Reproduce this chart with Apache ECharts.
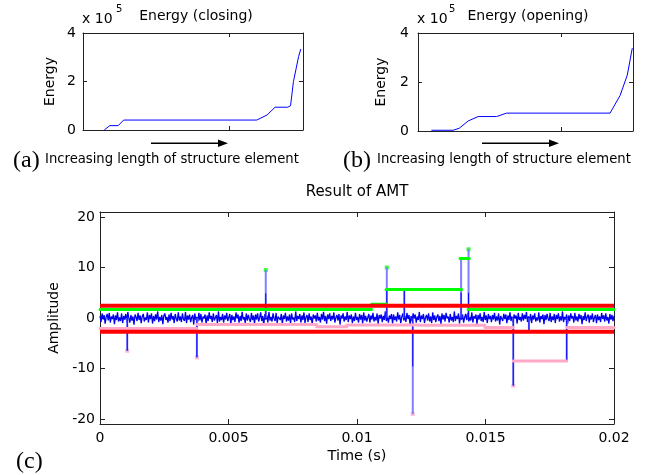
<!DOCTYPE html>
<html><head><meta charset="utf-8">
<script src="https://cdn.jsdelivr.net/npm/echarts@6/dist/echarts.min.js"></script>
<style>html,body{margin:0;padding:0;background:#fff}#c{width:658px;height:475px}</style>
</head><body><div id="c"></div>
<script>
// (a) Energy (closing), x 10^5
const closingX = [2.9, 3.65, 4.8, 5.55, 23.7, 25.1, 26.2, 27.9, 28.3, 28.7, 29.4, 29.7];
const closingY = [0, 0.18, 0.18, 0.41, 0.41, 0.62, 0.94, 0.94, 1.0, 2.0, 3.03, 3.34];
// (b) Energy (opening), x 10^5
const openingX = [1.87, 4.9, 5.74, 7.0, 8.4, 10.97, 11.2, 12.37, 26.8, 28.2, 29.2, 29.9];
const openingY = [0.03, 0.03, 0.11, 0.41, 0.59, 0.59, 0.62, 0.73, 0.73, 1.45, 2.28, 3.38];
const energyTicks = [0, 2, 4];
const energyXTick = [20];

// (c) Result of AMT
const timeTicks = [0, 0.005, 0.01, 0.015, 0.02];
const ampTicks = [-20, -10, 0, 10, 20];
const signal = [
0.4,-0.8,0.9,-0.3,0.6,-1.1,0.2,0.8,-0.5,1.0,-0.9,0.3,-0.2,0.7,-1.2,0.5,-0.4,1.1,-0.7,0.1,
-0.6,0.9,-1.0,0.4,-0.3,0.8,-0.8,1.2,-0.1,-0.9,0.6,-0.5,0.3,-1.3,0.7,0.2,-0.6,1.0,-0.4,0.5,
-1.0,0.3,0.8,-0.7,0.1,-0.4,1.1,-0.9,0.6,-0.2,0.9,-1.1,0.4,-0.6,0.7,-0.3,1.3,-0.8,0.2,-0.5,
0.6,-1.2,0.5,0.9,-0.4,0.2,-0.9,0.7,-0.6,1.0,-0.3,0.4,-1.0,0.8,-0.1,-0.7,1.1,-0.5,0.3,-0.8,
0.9,-0.2,-0.6,1.2,-1.0,0.5,-0.3,0.7,-0.8,0.1,0.6,-1.3,0.9,-0.4,0.2,-0.7,1.0,-0.5,0.8,-0.9,
0.3,-0.1,0.7,-1.1,0.5,-0.6,1.1,-0.2,0.4,-0.8,0.9,-0.5,-0.2,0.6,-1.0,1.3,-0.7,0.2,-0.4,0.8,
-0.9,0.5,-0.3,1.0,-0.6,0.1,0.8,-1.2,0.6,-0.4,0.3,-0.8,1.1,-0.1,0.7,-0.9,0.4,-0.6,1.2,-0.3,
0.2,-1.0,0.9,-0.5,0.6,-0.2,-0.8,1.0,-0.4,0.5,-1.1,0.7,-0.3,0.9,-0.7,0.1,1.1,-0.6,0.4,-1.4,
0.8,-0.3,0.5,-0.9,1.2,-0.5,0.2,-0.7,0.9,-0.1,-0.6,1.0,-1.0,0.3,0.6,-0.4,0.8,-1.2,0.5,-0.2,
1.0,-0.7,0.3,-0.5,0.7,-1.1,0.9,-0.3,0.1,-0.8,1.3,-0.6,0.4,-0.2,0.8,-0.9,0.5,-0.4,1.1,-1.0,
0.2,0.6,-0.8,0.9,-0.4,0.3,-1.2,0.7,-0.1,0.5,-0.7,1.0,-0.5,0.2,-0.9,0.8,-0.3,1.2,-0.6,0.4,
-1.1,0.7,-0.2,0.9,-0.6,0.4,-0.3,1.1,-0.9,0.1,0.6,-0.5,0.8,-1.3,0.5,-0.1,0.9,-0.7,0.3,-0.4,
1.2,-0.8,0.5,-0.2,0.7,-1.0,0.3,-0.6,1.0,-0.4,0.2,-0.9,0.8,-0.3,0.6,-1.1,1.1,-0.5,0.4,-0.7,
0.1,0.8,-0.9,0.5,-0.3,1.0,-0.7,0.2,-0.5,0.9,-1.2,0.6,-0.1,0.7,-0.8,0.4,-0.4,1.3,-0.6,0.3,
-0.9,0.5,-0.2,0.8,-1.1,0.7,-0.4,0.3,-0.7,1.1,-0.3,0.6,-1.0,0.2,0.9,-0.5,0.4,-0.8,1.0,-0.2,
0.6,-1.3,0.4,-0.6,0.9,-0.1,0.7,-0.9,0.3,-0.4,1.2,-0.8,0.5,-0.2,0.8,-1.0,0.1,0.6,-0.5,0.9,
-0.7,0.3,-1.0,1.1,-0.4,0.5,-0.8,0.2,0.7,-0.6,0.4,-1.2,0.9,-0.3,0.6,-0.7,1.0,-0.1,0.3,-0.9,
0.8,-0.5,0.2,-0.8,1.3,-0.6,0.4,-0.2,0.9,-1.1,0.5,-0.3,0.7,-0.9,0.1,0.8,-0.4,1.0,-0.7,0.2,
-0.5,1.1,-0.9,0.4,-0.1,0.7,-1.2,0.6,-0.3,0.9,-0.6,0.2,-0.8,1.2,-0.4,0.5,-1.0,0.8,-0.2,0.4,
-0.8,0.6,-0.3,1.0,-0.7,0.3,-0.5,0.9,-1.3,0.4,0.1,-0.6,0.8,-0.2,0.7,-1.0,0.5,-0.4,1.1,-0.6,
0.3,-0.9,0.7,-0.1,0.5,-1.1,1.0,-0.4,0.2,-0.7,0.9,-0.5,0.6,-0.2,1.2,-0.8,0.3,-0.6,0.8,-1.0,
0.5,-0.3,0.9,-0.7,0.1,-0.5,1.1,-0.9,0.4,-0.2,0.7,-1.2,0.6,-0.4,0.8,-0.1,-0.6,1.0,-0.8,0.3,
-0.4,0.8,-1.0,0.6,-0.2,0.9,-0.7,0.3,-0.5,1.3,-0.8,0.2,-0.3,0.7,-1.1,0.5,-0.6,0.9,-0.1,0.4,
-0.9,1.0,-0.5,0.3,-0.7,0.8,-0.2,0.6,-1.2,0.4,-0.4,1.1,-0.6,0.2,0.7,-0.9,0.5,-0.3,0.9,-0.8,
0.1,0.6,-1.0,0.7,-0.4,0.3,-0.8,1.0,-0.2,0.5,-0.7,0.9,-0.5,0.2,-1.1,0.8,-0.3,0.6,-0.6,0.4
];
const signalEnd = 0.02;
// impulses
const spikeT    = [0.00106, 0.00377, 0.00645, 0.01116, 0.01184, 0.01217, 0.01405, 0.01434, 0.01608, 0.01669, 0.01816];
const spikePeak = [-6.5, -7.8, 9.5, 10.0, 5.67, -19.0, 11.8, 13.6, -13.4, -2.4, -8.5];
const spikeDark = [-6.5, -7.8, 4.9, 5.67, 5.67, -9.6, 5.0, 5.0, -13.4, -2.4, -8.5];
// detected peaks
const posPeakT = [0.00645, 0.01116, 0.01434];
const posPeakV = [9.5, 10.0, 13.6];
const negPeakT = [0.00106, 0.00377, 0.01217, 0.01608];
const negPeakV = [-6.5, -7.8, -19.0, -13.4];
// upper (green) envelope segments
const greenStart = [0, 0.01057, 0.01113, 0.01401, 0.01432];
const greenEnd   = [0.01057, 0.01116, 0.01407, 0.01437, 0.02];
const greenLevel = [1.68, 2.72, 5.67, 11.8, 1.68];
// lower (pink) envelope segments
const pinkStart = [0, 0.00377, 0.00843, 0.0096, 0.01245, 0.01498, 0.01608, 0.01816];
const pinkEnd   = [0.00377, 0.00843, 0.0096, 0.01245, 0.01498, 0.01608, 0.01816, 0.02];
const pinkLevel = [-2.07, -1.3, -1.75, -1.4, -1.45, -1.9, -8.5, -1.9];
// thresholds (red)
const thresholdLevel = [2.43, -2.7];

const FONT = 'DejaVu Sans';
const AX = '#222';

function segs(starts, ends, levels) {
  const d = [];
  for (let i = 0; i < starts.length; i++) {
    d.push([starts[i], levels[i]], [ends[i], levels[i]], [ends[i], null]);
  }
  return d;
}
function vlines(ts, tops) {
  const d = [];
  for (let i = 0; i < ts.length; i++) d.push([ts[i], 0], [ts[i], tops[i]], [ts[i], null]);
  return d;
}
function zip(a, b) { return a.map((v, i) => [v, b[i]]); }

const lbl = { color: '#000', fontFamily: FONT, fontSize: 14 };

function boxX(grid, pos, min, max, extra) {
  return Object.assign({
    type: 'value', gridIndex: grid, position: pos, min: min, max: max,
    axisLine: { show: true, onZero: false, lineStyle: { color: AX, width: 1 } },
    splitLine: { show: false },
    axisLabel: { show: false },
    axisTick: { show: true, inside: true, length: 4, lineStyle: { color: AX } }
  }, extra || {});
}

const chart = echarts.init(document.getElementById('c'), null, { renderer: 'canvas' });
const option = {
  animation: false,
  backgroundColor: '#fff',
  grid: [
    { left: 83, top: 33, width: 220, height: 97 },
    { left: 418, top: 33, width: 215, height: 98 },
    { left: 100, top: 212, width: 514, height: 212 }
  ],
  xAxis: [
    boxX(0, 'bottom', 0, 30, { axisTick: { show: true, inside: true, length: 4, customValues: energyXTick, lineStyle: { color: AX } } }),
    boxX(0, 'top', 0, 30, { axisTick: { show: true, inside: true, length: 4, customValues: energyXTick, lineStyle: { color: AX } } }),
    boxX(1, 'bottom', 0, 30, { axisTick: { show: true, inside: true, length: 4, customValues: energyXTick, lineStyle: { color: AX } } }),
    boxX(1, 'top', 0, 30, { axisTick: { show: true, inside: true, length: 4, customValues: energyXTick, lineStyle: { color: AX } } }),
    boxX(2, 'bottom', 0, signalEnd, {
      interval: 0.005,
      axisLabel: Object.assign({ show: true, margin: 7, showMinLabel: true, showMaxLabel: true,
        formatter: v => String(parseFloat(Number(v).toFixed(4))) }, lbl),
      axisTick: { show: true, inside: true, length: 5, lineStyle: { color: AX } },
      name: 'Time (s)', nameLocation: 'middle', nameGap: 25,
      nameTextStyle: { color: '#000', fontFamily: FONT, fontSize: 14.5 }
    }),
    boxX(2, 'top', 0, signalEnd, { interval: 0.005, axisTick: { show: true, inside: true, length: 5, lineStyle: { color: AX } } })
  ],
  yAxis: [
    boxX(0, 'left', 0, 4, { interval: 2,
      axisLabel: Object.assign({ show: true, margin: 7, formatter: v => String(v) }, lbl),
      name: 'Energy', nameLocation: 'middle', nameGap: 26, nameRotate: 90,
      nameTextStyle: { color: '#000', fontFamily: FONT, fontSize: 14 } }),
    boxX(0, 'right', 0, 4, { interval: 2 }),
    boxX(1, 'left', 0, 4, { interval: 2,
      axisLabel: Object.assign({ show: true, margin: 9, formatter: v => String(v) }, lbl),
      name: 'Energy', nameLocation: 'middle', nameGap: 30, nameRotate: 90,
      nameTextStyle: { color: '#000', fontFamily: FONT, fontSize: 14 } }),
    boxX(1, 'right', 0, 4, { interval: 2 }),
    boxX(2, 'left', -21, 21, {
      axisLabel: Object.assign({ show: true, margin: 5, customValues: ampTicks, formatter: v => String(v) }, lbl),
      axisTick: { show: true, inside: true, length: 5, customValues: ampTicks, lineStyle: { color: AX } },
      name: 'Amplitude', nameLocation: 'middle', nameGap: 37, nameRotate: 90,
      nameTextStyle: { color: '#000', fontFamily: FONT, fontSize: 14 } }),
    boxX(2, 'right', -21, 21, {
      axisTick: { show: true, inside: true, length: 5, customValues: ampTicks, lineStyle: { color: AX } } })
  ],
  series: [
    { type: 'line', xAxisIndex: 0, yAxisIndex: 0, data: zip(closingX, closingY), symbol: 'none',
      lineStyle: { color: '#0000ff', width: 1 } },
    { type: 'line', xAxisIndex: 2, yAxisIndex: 2, data: zip(openingX, openingY), symbol: 'none',
      lineStyle: { color: '#0000ff', width: 1 } },
    { type: 'line', xAxisIndex: 4, yAxisIndex: 4, symbol: 'none', clip: true,
      data: signal.map((v, i) => [i * signalEnd / (signal.length - 1), v]),
      lineStyle: { color: '#0000f0', width: 1.3 } },
    { type: 'line', xAxisIndex: 4, yAxisIndex: 4, symbol: 'none', connectNulls: false,
      data: vlines(spikeT, spikePeak), lineStyle: { color: '#8080ff', width: 2 } },
    { type: 'line', xAxisIndex: 4, yAxisIndex: 4, symbol: 'none', connectNulls: false,
      data: vlines(spikeT, spikeDark), lineStyle: { color: '#0000ff', width: 1 } },
    { type: 'line', xAxisIndex: 4, yAxisIndex: 4, symbol: 'none', connectNulls: false,
      data: segs(pinkStart, pinkEnd, pinkLevel), lineStyle: { color: '#ffa8c8', width: 3, cap: 'round' } },
    { type: 'line', xAxisIndex: 4, yAxisIndex: 4, symbol: 'none', connectNulls: false,
      data: segs(greenStart, greenEnd, greenLevel), lineStyle: { color: '#00ff00', width: 3, cap: 'round' } },
    { type: 'line', xAxisIndex: 4, yAxisIndex: 4, symbol: 'none', connectNulls: false, clip: true,
      data: segs([0, 0], [signalEnd, signalEnd], thresholdLevel), lineStyle: { color: '#ff0000', width: 4 } },
    { type: 'scatter', xAxisIndex: 4, yAxisIndex: 4, symbol: 'rect', symbolSize: 4,
      data: zip(posPeakT, posPeakV), itemStyle: { color: '#00ff00' } },
    { type: 'scatter', xAxisIndex: 4, yAxisIndex: 4, symbol: 'rect', symbolSize: 4,
      data: zip(negPeakT, negPeakV), itemStyle: { color: '#ffa8c8' } }
  ],
  graphic: [
    { type: 'text', x: 82, y: 19, style: { text: 'x 10', fontFamily: FONT, fontSize: 14, fill: '#000', align: 'left', verticalAlign: 'middle' } },
    { type: 'text', x: 116, y: 9, style: { text: '5', fontFamily: FONT, fontSize: 10, fill: '#000', align: 'left', verticalAlign: 'middle' } },
    { type: 'text', x: 196, y: 16, style: { text: 'Energy (closing)', fontFamily: FONT, fontSize: 14, fill: '#000', align: 'center', verticalAlign: 'middle' } },
    { type: 'text', x: 417, y: 19, style: { text: 'x 10', fontFamily: FONT, fontSize: 14, fill: '#000', align: 'left', verticalAlign: 'middle' } },
    { type: 'text', x: 449, y: 9, style: { text: '5', fontFamily: FONT, fontSize: 10, fill: '#000', align: 'left', verticalAlign: 'middle' } },
    { type: 'text', x: 528, y: 16, style: { text: 'Energy (opening)', fontFamily: FONT, fontSize: 14, fill: '#000', align: 'center', verticalAlign: 'middle' } },
    { type: 'line', shape: { x1: 151, y1: 143.3, x2: 220, y2: 143.3 }, style: { stroke: '#000', lineWidth: 1.5 } },
    { type: 'polygon', shape: { points: [[218, 139.6], [228, 143.3], [218, 147]] }, style: { fill: '#000' } },
    { type: 'line', shape: { x1: 482, y1: 143.3, x2: 551, y2: 143.3 }, style: { stroke: '#000', lineWidth: 1.5 } },
    { type: 'polygon', shape: { points: [[549, 139.6], [559, 143.3], [549, 147]] }, style: { fill: '#000' } },
    { type: 'text', x: 13, y: 161, style: { text: '(a)', fontFamily: 'Liberation Serif', fontSize: 24, fill: '#000', align: 'left', verticalAlign: 'middle' } },
    { type: 'text', x: 45, y: 160, style: { text: 'Increasing length of structure element', fontFamily: FONT, fontSize: 13.2, fill: '#000', align: 'left', verticalAlign: 'middle' } },
    { type: 'text', x: 343, y: 161, style: { text: '(b)', fontFamily: 'Liberation Serif', fontSize: 24, fill: '#000', align: 'left', verticalAlign: 'middle' } },
    { type: 'text', x: 377, y: 160, style: { text: 'Increasing length of structure element', fontFamily: FONT, fontSize: 13.2, fill: '#000', align: 'left', verticalAlign: 'middle' } },
    { type: 'text', x: 357, y: 192, style: { text: 'Result of AMT', fontFamily: FONT, fontSize: 15, fill: '#000', align: 'center', verticalAlign: 'middle' } },
    { type: 'text', x: 16, y: 462, style: { text: '(c)', fontFamily: 'Liberation Serif', fontSize: 24, fill: '#000', align: 'left', verticalAlign: 'middle' } }
  ]
};
chart.setOption(option);
</script>
</body></html>
